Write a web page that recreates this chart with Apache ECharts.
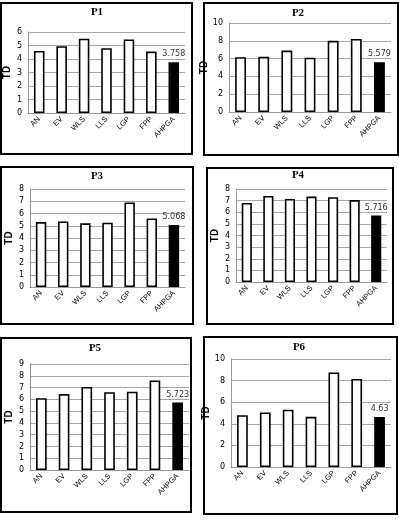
<!DOCTYPE html>
<html>
<head>
<meta charset="utf-8">
<script src="https://cdn.jsdelivr.net/npm/echarts@6/dist/echarts.min.js"></script>
<style>
html,body{margin:0;padding:0;background:#fff;}
#main{width:399px;height:523px;}
</style>
</head>
<body>
<div id="main"></div>
<script>
const categories = ['AN', 'EV', 'WLS', 'LLS', 'LGP', 'FPP', 'AHPGA'];
const titles = ['P1', 'P2', 'P3', 'P4', 'P5', 'P6'];
const p1 = [4.6, 4.95, 5.5, 4.8, 5.45, 4.55, 3.758];
const p2 = [6.15, 6.2, 6.9, 6.1, 8.0, 8.2, 5.579];
const p3 = [5.3, 5.35, 5.2, 5.25, 6.9, 5.6, 5.068];
const p4 = [6.8, 7.4, 7.15, 7.35, 7.3, 7.05, 5.716];
const p5 = [6.1, 6.45, 7.05, 6.6, 6.65, 7.6, 5.723];
const p6 = [4.8, 5.05, 5.3, 4.65, 8.75, 8.15, 4.63];
const yMax = [6, 10, 8, 8, 9, 10];
const yStep = [1, 2, 1, 1, 1, 2];
const allData = [p1, p2, p3, p4, p5, p6];

// panel frames and plot areas (px)
const frames = [
  [1, 3, 191, 151], [204, 3, 194, 152],
  [1, 167, 192, 157], [207, 168, 186, 156],
  [1, 338, 190, 174], [204, 337, 193, 177]
];
const grids = [
  [28, 32, 157, 81], [229, 23, 162, 89],
  [30, 189, 155, 98], [236, 189, 151, 93],
  [30, 364, 159, 106], [231, 359, 160, 108]
];
const titlePos = [[97, 12], [298, 13], [97, 176], [298, 175], [95, 348], [299, 347]];

const chart = echarts.init(document.getElementById('main'));

let option = {
  animation: false,
  grid: [], xAxis: [], yAxis: [], series: [], graphic: []
};

for (let i = 0; i < 6; i++) {
  const g = grids[i];
  option.grid.push({left: g[0], top: g[1], width: g[2], height: g[3], containLabel: false});
  option.xAxis.push({
    type: 'category', gridIndex: i, data: categories,
    axisLine: {lineStyle: {color: '#999', width: 1}},
    axisTick: {show: false},
    axisLabel: {rotate: 45, interval: 0, fontSize: 7.5, fontFamily: 'Liberation Sans', color: '#000', margin: 5}
  });
  option.yAxis.push({
    type: 'value', gridIndex: i, min: 0, max: yMax[i], interval: yStep[i],
    name: 'TD', nameLocation: 'middle', nameRotate: 90, nameGap: 16,
    nameTextStyle: {fontSize: 10, fontWeight: 'bold', fontFamily: 'Liberation Sans', color: '#000'},
    axisLine: {show: true, lineStyle: {color: '#999', width: 1}},
    axisTick: {show: false},
    splitLine: {lineStyle: {color: '#a6a6a6', width: 1}},
    axisLabel: {fontSize: 8, fontFamily: 'DejaVu Sans', color: '#000', margin: 6}
  });
  option.series.push({
    type: 'bar', xAxisIndex: i, yAxisIndex: i, barWidth: '47%',
    data: allData[i].map(function (v, k) {
      if (k === categories.length - 1) {
        return {value: v, itemStyle: {color: '#000'},
          label: {show: true, position: 'top', distance: 4, fontSize: 8, fontFamily: 'DejaVu Sans', color: '#333',
            formatter: String(v)}};
      }
      return v;
    }),
    itemStyle: {color: '#fff', borderColor: '#000', borderWidth: 1.6}
  });
  const f = frames[i];
  option.graphic.push({
    type: 'rect', shape: {x: f[0], y: f[1], width: f[2], height: f[3]},
    style: {fill: 'none', stroke: '#000', lineWidth: 2}, z: 10
  });
  option.graphic.push({
    type: 'text', x: titlePos[i][0], y: titlePos[i][1],
    style: {text: titles[i], fill: '#000', font: 'bold 11px "Liberation Serif"', textAlign: 'center', textVerticalAlign: 'middle'}
  });
}

chart.setOption(option);
</script>
</body>
</html>
